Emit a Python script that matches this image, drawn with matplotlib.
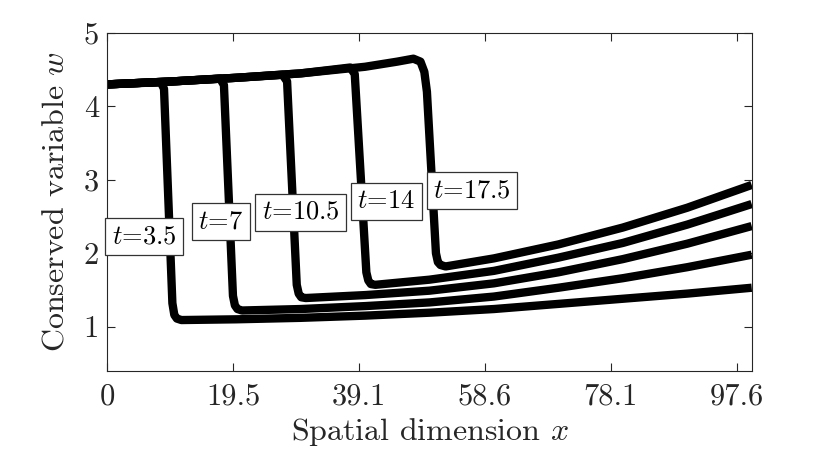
import matplotlib
matplotlib.use("Agg")
import matplotlib.pyplot as plt

plt.rcParams['font.family'] = ['cmr10', 'DejaVu Serif']
plt.rcParams['mathtext.fontset'] = 'cm'
plt.rcParams['axes.unicode_minus'] = False

# ---- data ----
x_t35 = [0, 8.3, 8.8, 10.1, 10.4, 10.8, 11.5, 20, 30, 40, 50, 60, 70, 80, 90, 100]
w_t35 = [4.30, 4.33, 4.24, 1.32, 1.16, 1.11, 1.09, 1.10, 1.12, 1.15, 1.19, 1.24, 1.31, 1.38, 1.45, 1.53]

x_t7 = [0, 10, 17.5, 18.1, 19.5, 19.8, 20.2, 20.9, 30, 40, 50, 60, 70, 80, 90, 100]
w_t7 = [4.30, 4.34, 4.38, 4.29, 1.42, 1.29, 1.24, 1.22, 1.24, 1.28, 1.33, 1.41, 1.53, 1.66, 1.81, 1.98]

x_t105 = [0, 10, 20, 27.2, 27.9, 29.4, 29.7, 30.1, 30.8, 40, 50, 60, 70, 80, 90, 100]
w_t105 = [4.30, 4.34, 4.39, 4.43, 4.34, 1.57, 1.45, 1.40, 1.39, 1.43, 1.49, 1.59, 1.74, 1.92, 2.13, 2.37]

x_t14 = [0, 10, 20, 30, 37.7, 38.4, 40.2, 40.5, 40.9, 41.6, 50, 60, 70, 80, 90, 100]
w_t14 = [4.30, 4.34, 4.39, 4.45, 4.53, 4.44, 1.74, 1.63, 1.58, 1.57, 1.64, 1.76, 1.94, 2.14, 2.39, 2.67]

x_t175 = [0, 10, 20, 30, 40, 45, 47.5, 48.6, 49.2, 49.6, 51.0, 51.3, 51.7, 52.5, 60, 70, 80, 90, 100]
w_t175 = [4.30, 4.34, 4.39, 4.45, 4.54, 4.61, 4.65, 4.61, 4.47, 4.20, 2.00, 1.88, 1.84, 1.82, 1.93, 2.12, 2.35, 2.62, 2.93]

label_texts = ['3.5', '7', '10.5', '14', '17.5']
label_x = [5.7, 17.6, 30.0, 43.3, 56.6]
label_y = [2.23, 2.43, 2.56, 2.71, 2.85]

xtick_vals = [0, 19.53, 39.06, 58.59, 78.13, 97.66]
xtick_labels = ['0', '19.5', '39.1', '58.6', '78.1', '97.6']
ytick_vals = [1, 2, 3, 4, 5]
ytick_labels = ['1', '2', '3', '4', '5']

curves_x = [x_t35, x_t7, x_t105, x_t14, x_t175]
curves_w = [w_t35, w_t7, w_t105, w_t14, w_t175]

# ---- figure ----
fig = plt.figure(figsize=(8.3, 4.57), dpi=100)
ax = fig.add_axes([107.3 / 830, 1 - 370.7 / 457, (751.7 - 107.3) / 830, (370.7 - 33) / 457])

for xs, ws in zip(curves_x, curves_w):
    ax.plot(xs, ws, color='black', lw=6.0, solid_joinstyle='round', solid_capstyle='butt')

for txt, lx, ly in zip(label_texts, label_x, label_y):
    ax.text(lx, ly, r'$t$=' + txt, ha='center', va='center', fontsize=19,
            bbox=dict(boxstyle='square,pad=0.25', fc='white', ec='#333333', lw=0.9))

ax.set_xlim(0, 100)
ax.set_ylim(0.4, 5)
ax.set_xticks(xtick_vals)
ax.set_xticklabels(xtick_labels)
ax.set_yticks(ytick_vals)
ax.set_yticklabels(ytick_labels)
ax.tick_params(direction='in', length=6, width=0.8, colors='#262626', labelsize=22,
               top=True, right=True)
ax.tick_params(axis='x', pad=9)
ax.tick_params(axis='y', pad=6)
for sp in ax.spines.values():
    sp.set_color('#262626')
    sp.set_linewidth(0.8)

ax.set_xlabel(r'Spatial dimension $x$', fontsize=23, color='#262626', labelpad=4)
ax.set_ylabel(r'Conserved variable $w$', fontsize=23, color='#262626', labelpad=10)

fig.savefig('out.png', dpi=100)
